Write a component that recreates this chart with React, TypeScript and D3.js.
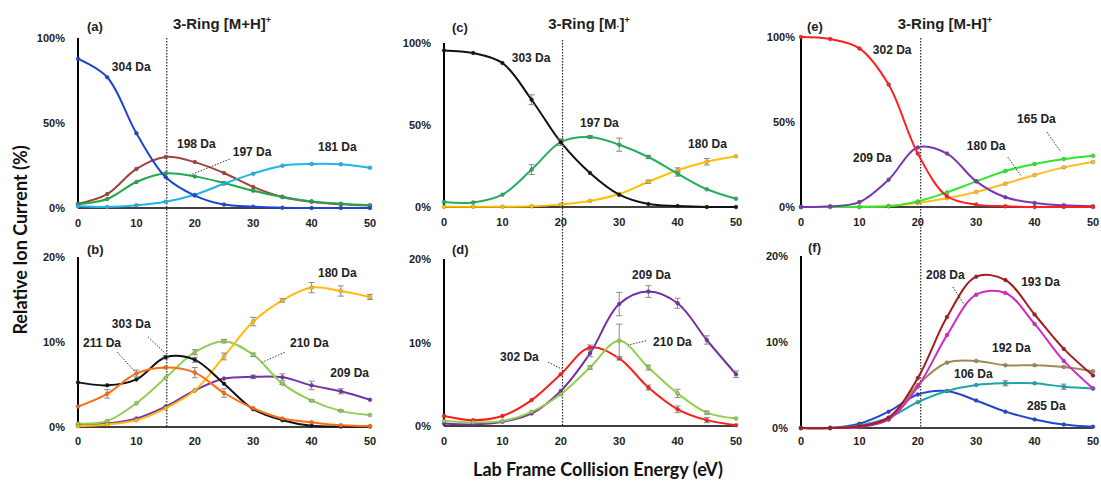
import React from "react";
import * as d3 from "d3";

// Collision energies (eV) shared by every breakdown curve
const energies = [0, 5, 10, 15, 20, 25, 30, 35, 40, 45, 50];
const xTicks = [0, 10, 20, 30, 40, 50];
const topTicks = [0, 50, 100];
const bottomTicks = [0, 10, 20];

// (a) 3-Ring [M+H]+ major ions, relative ion current (%)
const a304 = [87.8, 76.9, 44, 18.2, 7.3, 2, 0.8, 0.2, 0, 0, 0];
const a198 = [2.5, 8.2, 23, 30, 27, 20.6, 12.4, 6.5, 3.7, 2.2, 1.4];
const a197 = [2.2, 5.3, 15.3, 20.4, 18.6, 14.7, 10.2, 6.5, 3.9, 2.5, 1.6];
const a181 = [1.0, 0.6, 1.6, 3.7, 7.8, 14.3, 20.2, 24.9, 25.9, 25.7, 23.7];

// (b) 3-Ring [M+H]+ minor ions
const b303 = [5.25, 4.9, 5.6, 8.2, 7.9, 5.1, 2.1, 0.8, 0.15, 0.05, 0.05];
const b211 = [2.4, 3.9, 6.3, 7.0, 6.4, 4.0, 2.2, 1.0, 0.55, 0.2, 0.1];
const b210 = [0.4, 0.7, 2.8, 5.8, 8.8, 10.1, 8.5, 5.1, 3.1, 1.9, 1.4];
const b209 = [0.2, 0.4, 1.0, 2.4, 4.3, 5.7, 5.9, 5.85, 4.9, 4.2, 3.2];
const b180 = [0.1, 0.3, 0.8, 2.2, 4.3, 8.3, 12.4, 14.9, 16.4, 16.0, 15.3];
const b303Err = [0, 0, 0, 0.2, 0.3, 0, 0, 0, 0, 0, 0];
const b211Err = [0, 0.5, 0.4, 0, 0.6, 0.5, 0, 0, 0, 0, 0];
const b210Err = [0, 0, 0, 0, 0.3, 0.2, 0.2, 0.1, 0.1, 0.1, 0];
const b209Err = [0, 0, 0, 0, 0, 0, 0.2, 0.4, 0.5, 0.3, 0];
const b180Err = [0, 0, 0, 0, 0, 0.4, 0.5, 0.2, 0.6, 0.6, 0.3];

// (c) 3-Ring [M·]+ major ions
const c303 = [95.5, 93.9, 87.8, 65.4, 39.5, 20.7, 7.5, 1.8, 0.6, 0, 0];
const c197 = [3.0, 2.8, 7.5, 22.8, 39.6, 42.7, 38, 30.5, 20.3, 10.8, 5.1];
const c180 = [0.2, 0.2, 0.2, 0.4, 1.6, 3.7, 7.9, 15.4, 22.4, 27.6, 30.9];
const c303Err = [0, 0, 0, 3, 2, 0, 0, 0, 0, 0, 0];
const c197Err = [0, 0, 0, 3, 2, 0.8, 4, 1, 1.5, 0, 0];
const c180Err = [0, 0, 0, 0, 0, 0, 0, 1, 1.5, 2, 0];

// (d) 3-Ring [M·]+ minor ions
const d302 = [1.2, 0.7, 1.2, 3.1, 6.2, 9.4, 8.1, 4.6, 2.0, 0.7, 0.1];
const d209 = [0.3, 0.2, 0.5, 1.5, 4.2, 8.7, 14.6, 16.1, 14.7, 10.3, 6.2];
const d210 = [0.6, 0.45, 0.6, 1.7, 3.8, 7.0, 10.2, 7.0, 3.9, 1.6, 0.9];
const d302Err = [0, 0, 0, 0, 0, 0.3, 0.2, 0.3, 0.4, 0.3, 0];
const d209Err = [0, 0, 0, 0, 0, 0.4, 1.4, 0.7, 0.6, 0.5, 0.4];
const d210Err = [0, 0, 0, 0, 0, 0.2, 2.0, 0.3, 0.5, 0.2, 0];

// (e) 3-Ring [M-H]+ major ions
const e302 = [100, 98.8, 93.3, 72, 31.4, 6.3, 1.4, 0.4, 0, 0, 0];
const e209 = [0, 0.4, 2.9, 16.1, 35.0, 31.4, 15.1, 5.7, 2.4, 1.0, 0.4];
const e165 = [0, 0, 0.1, 0.4, 3.3, 8.6, 15.1, 21.2, 25.3, 28.2, 30.2];
const e180 = [0, 0, 0, 0.6, 2.4, 5.1, 8.8, 13.7, 18.8, 23.3, 26.5];

// (f) 3-Ring [M-H]+ minor ions
const f193 = [0, 0, 0.2, 1.2, 5.8, 12.9, 17.6, 17.2, 13.2, 9.2, 6.1];
const f208 = [0, 0, 0.1, 1.0, 4.8, 10.8, 15.5, 15.7, 12.1, 7.8, 4.6];
const f192 = [0, 0, 0.2, 1.0, 5.0, 7.6, 7.8, 7.3, 7.3, 7.1, 6.6];
const f106 = [0, 0, 0.3, 1.2, 3.0, 4.3, 5.0, 5.2, 5.2, 4.8, 4.6];
const f285 = [0, 0, 0.5, 1.9, 3.9, 4.3, 3.2, 1.9, 1.0, 0.4, 0.15];
const f106Err = [0, 0, 0, 0, 0, 0, 0, 0.3, 0, 0.3, 0];

type Series = { name: string; values: number[]; errors?: number[]; color: string };
type Note = { text: string; x: number; y: number };
type Leader = [number, number, number, number];

interface PanelSpec {
  tag: string;
  left: number;
  right: number;
  top: number;
  bottom: number;
  yMax: number;
  yTicks: number[];
  tickBaseline: number;
  labelGap: number;
  tagPos: [number, number];
  series: Series[];
  notes: Note[];
  leaders: Leader[];
}

const FONT = "'Liberation Sans', Arial, Helvetica, sans-serif";
const W = 1101;
const H = 482;

const panels: PanelSpec[] = [
  {
    tag: "(a)", left: 78, right: 370, top: 38, bottom: 208, yMax: 100, yTicks: topTicks,
    tickBaseline: 227, labelGap: 13, tagPos: [87, 31],
    series: [
      { name: "198", values: a198, color: "#a3413b" },
      { name: "197", values: a197, color: "#20a94f" },
      { name: "181", values: a181, color: "#1fb4ea" },
      { name: "304", values: a304, color: "#1f43d2" },
    ],
    notes: [
      { text: "304 Da", x: 5.8, y: 80.5 },
      { text: "198 Da", x: 16.95, y: 35.1 },
      { text: "197 Da", x: 26.5, y: 30.4 },
      { text: "181 Da", x: 41.1, y: 33.4 },
    ],
    leaders: [[26.0, 28.8, 19.2, 19.4]],
  },
  {
    tag: "(b)", left: 78, right: 370, top: 257, bottom: 427, yMax: 20, yTicks: bottomTicks,
    tickBaseline: 445, labelGap: 13, tagPos: [87, 254],
    series: [
      { name: "209", values: b209, errors: b209Err, color: "#7632a6" },
      { name: "210", values: b210, errors: b210Err, color: "#8fcf55" },
      { name: "180", values: b180, errors: b180Err, color: "#ffbc0f" },
      { name: "303", values: b303, errors: b303Err, color: "#111111" },
      { name: "211", values: b211, errors: b211Err, color: "#ff6d12" },
    ],
    notes: [
      { text: "180 Da", x: 41.1, y: 17.6 },
      { text: "303 Da", x: 5.8, y: 11.7 },
      { text: "211 Da", x: 0.85, y: 9.4 },
      { text: "210 Da", x: 36.3, y: 9.4 },
      { text: "209 Da", x: 43.2, y: 5.85 },
    ],
    leaders: [
      [12.0, 10.6, 14.9, 8.7],
      [6.7, 8.8, 9.8, 6.5],
      [35.4, 8.8, 31.5, 7.6],
    ],
  },
  {
    tag: "(c)", left: 444, right: 736, top: 43, bottom: 207, yMax: 100, yTicks: topTicks,
    tickBaseline: 226, labelGap: 13, tagPos: [452, 32],
    series: [
      { name: "180", values: c180, errors: c180Err, color: "#ffc000" },
      { name: "197", values: c197, errors: c197Err, color: "#22b05a" },
      { name: "303", values: c303, errors: c303Err, color: "#111111" },
    ],
    notes: [
      { text: "303 Da", x: 11.6, y: 88.2 },
      { text: "197 Da", x: 23.3, y: 48.6 },
      { text: "180 Da", x: 41.8, y: 35.8 },
    ],
    leaders: [],
  },
  {
    tag: "(d)", left: 444, right: 736, top: 259, bottom: 426, yMax: 20, yTicks: bottomTicks,
    tickBaseline: 445, labelGap: 13, tagPos: [452, 254],
    series: [
      { name: "302", values: d302, errors: d302Err, color: "#ff1c1c" },
      { name: "209", values: d209, errors: d209Err, color: "#7431a4" },
      { name: "210", values: d210, errors: d210Err, color: "#92d050" },
    ],
    notes: [
      { text: "209 Da", x: 32.2, y: 17.6 },
      { text: "210 Da", x: 35.8, y: 9.55 },
      { text: "302 Da", x: 9.6, y: 7.75 },
    ],
    leaders: [
      [34.6, 10.2, 31.5, 9.7],
      [17.8, 7.66, 20.2, 6.8],
    ],
  },
  {
    tag: "(e)", left: 801, right: 1093, top: 37, bottom: 207, yMax: 100, yTicks: topTicks,
    tickBaseline: 226, labelGap: 6, tagPos: [807, 31],
    series: [
      { name: "180", values: e180, color: "#ffbd24" },
      { name: "165", values: e165, color: "#2ee82e" },
      { name: "209", values: e209, color: "#7a38b0" },
      { name: "302", values: e302, color: "#ff1f1f" },
    ],
    notes: [
      { text: "302 Da", x: 12.3, y: 89.8 },
      { text: "209 Da", x: 8.9, y: 26.3 },
      { text: "180 Da", x: 28.4, y: 33.4 },
      { text: "165 Da", x: 37, y: 49.2 },
    ],
    leaders: [
      [35.4, 29.4, 37.7, 18.2],
      [42.1, 44.1, 44.5, 32.4],
    ],
  },
  {
    tag: "(f)", left: 801, right: 1093, top: 256, bottom: 428, yMax: 20, yTicks: bottomTicks,
    tickBaseline: 445, labelGap: 13, tagPos: [808, 252],
    series: [
      { name: "285", values: f285, color: "#2446cf" },
      { name: "106", values: f106, errors: f106Err, color: "#1ea4aa" },
      { name: "192", values: f192, color: "#9c8b55" },
      { name: "208", values: f208, color: "#d22ac2" },
      { name: "193", values: f193, color: "#a51c1c" },
    ],
    notes: [
      { text: "208 Da", x: 21.4, y: 17.3 },
      { text: "193 Da", x: 37.7, y: 16.5 },
      { text: "192 Da", x: 32.7, y: 8.8 },
      { text: "106 Da", x: 26.2, y: 5.8 },
      { text: "285 Da", x: 38.7, y: 2.06 },
    ],
    leaders: [[26.0, 16.4, 27.9, 14.4]],
  },
];

// Vertical dotted markers: energy on the column's top-panel scale
const columnMarkers = [
  { energy: 15.2, left: 78, right: 370, top: 38, bottom: 428 },
  { energy: 20.3, left: 444, right: 736, top: 40, bottom: 427 },
  { energy: 20.5, left: 801, right: 1093, top: 38, bottom: 428 },
];

function Panel({ p }: { p: PanelSpec }) {
  const x = d3.scaleLinear().domain([0, 50]).range([p.left, p.right]);
  const y = d3.scaleLinear().domain([0, p.yMax]).range([p.bottom, p.top]);
  const line = d3
    .line<number>()
    .x((_, i) => x(energies[i]))
    .y((v) => y(v))
    .curve(d3.curveCatmullRom.alpha(0.5));

  return (
    <g>
      {/* axes */}
      <line x1={p.left} x2={p.left} y1={p.top} y2={p.bottom} stroke="#000" strokeWidth={2} />
      <line x1={p.left} x2={p.right} y1={p.bottom} y2={p.bottom} stroke="#000" strokeWidth={1.5} />
      {p.yTicks.map((t) => (
        <text key={"y" + t} x={p.left - p.labelGap} y={y(t) + 4} textAnchor="end"
          fontFamily={FONT} fontWeight="bold" fontSize={11} fill="#222">
          {t}%
        </text>
      ))}
      {xTicks.map((t) => (
        <text key={"x" + t} x={x(t)} y={p.tickBaseline} textAnchor="middle"
          fontFamily={FONT} fontWeight="bold" fontSize={11} fill="#222">
          {t}
        </text>
      ))}
      <text x={p.tagPos[0]} y={p.tagPos[1]} fontFamily={FONT} fontWeight="bold" fontSize={13} fill="#222">
        {p.tag}
      </text>

      {/* curves */}
      {p.series.map((s) => (
        <g key={s.name}>
          <path d={line(s.values) || ""} fill="none" stroke={s.color} strokeWidth={2} />
          {s.errors &&
            s.values.map((v, i) => {
              const e = s.errors![i];
              if (!e) return null;
              const cx = x(energies[i]);
              return (
                <g key={i} stroke="#8a8a8a" strokeWidth={1}>
                  <line x1={cx} x2={cx} y1={y(v - e)} y2={y(v + e)} />
                  <line x1={cx - 3} x2={cx + 3} y1={y(v - e)} y2={y(v - e)} />
                  <line x1={cx - 3} x2={cx + 3} y1={y(v + e)} y2={y(v + e)} />
                </g>
              );
            })}
          {s.values.map((v, i) => (
            <circle key={i} cx={x(energies[i])} cy={y(v)} r={2} fill={s.color}
              stroke="#555" strokeOpacity={0.5} strokeWidth={0.6} />
          ))}
        </g>
      ))}

      {/* annotations */}
      {p.leaders.map((l, i) => (
        <line key={"l" + i} x1={x(l[0])} y1={y(l[1])} x2={x(l[2])} y2={y(l[3])}
          stroke="#333" strokeWidth={1} strokeDasharray="1.5,1.5" />
      ))}
      {p.notes.map((n) => (
        <text key={n.text} x={x(n.x)} y={y(n.y)} fontFamily={FONT} fontWeight="bold"
          fontSize={12} fill="#222">
          {n.text}
        </text>
      ))}
    </g>
  );
}

export default function App() {
  return (
    <svg width={W} height={H} viewBox={`0 0 ${W} ${H}`}
      style={{ position: "absolute", left: 0, top: 0, background: "#fff" }}>
      <rect width={W} height={H} fill="#fff" />
      {columnMarkers.map((m, i) => {
        const x = d3.scaleLinear().domain([0, 50]).range([m.left, m.right]);
        return (
          <line key={i} x1={x(m.energy)} x2={x(m.energy)} y1={m.top} y2={m.bottom}
            stroke="#222" strokeWidth={1.2} strokeDasharray="1.5,1.5" />
        );
      })}
      {panels.map((p) => (
        <Panel key={p.tag} p={p} />
      ))}

      {/* column titles */}
      <text x={222} y={29} textAnchor="middle" fontFamily={FONT} fontWeight="bold" fontSize={15} fill="#222">
        3-Ring [M+H]<tspan dy={-6} fontSize={9}>+</tspan>
      </text>
      <text x={589} y={29} textAnchor="middle" fontFamily={FONT} fontWeight="bold" fontSize={15} fill="#222">
        3-Ring [M<tspan dy={1} fontSize={9}>·</tspan><tspan dy={-1}>]</tspan>
        <tspan dy={-6} fontSize={9}>+</tspan>
      </text>
      <text x={945} y={29} textAnchor="middle" fontFamily={FONT} fontWeight="bold" fontSize={15} fill="#222">
        3-Ring [M-H]<tspan dy={-6} fontSize={9}>+</tspan>
      </text>

      {/* shared axis titles */}
      <text transform="translate(27,240) rotate(-90)" textAnchor="middle" fontFamily="Lato, 'Open Sans', sans-serif"
        fontWeight="bold" fontSize={18} fill="#111">
        Relative Ion Current (%)
      </text>
      <text x={598} y={476} textAnchor="middle" fontFamily="Lato, 'Open Sans', sans-serif"
        fontWeight="bold" fontSize={18} fill="#111">
        Lab Frame Collision Energy (eV)
      </text>
    </svg>
  );
}
